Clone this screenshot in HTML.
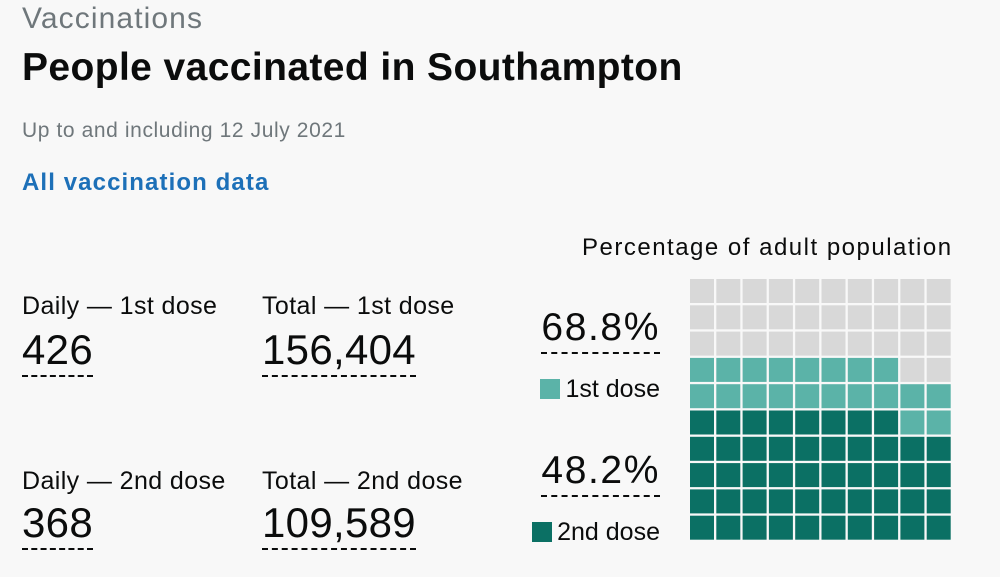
<!DOCTYPE html>
<html><head><meta charset="utf-8"><style>
body{margin:0;width:1000px;height:577px;background:#f8f8f8;font-family:"Liberation Sans",sans-serif;position:relative;overflow:hidden;color:#0b0c0c}
.a{position:absolute;white-space:nowrap;margin:0}
.lab{font-size:25px;line-height:25px;letter-spacing:0.4px}
.num{font-size:42px;line-height:38px;border-bottom:2px dashed #0b0c0c;padding-bottom:6px;letter-spacing:0.3px}
.pct{font-size:39px;line-height:36px;border-bottom:2px dashed #0b0c0c;padding-bottom:6px;right:340px;text-align:right;letter-spacing:1.6px}
.leg{font-size:25px;line-height:25px;right:340px}
.sw{display:inline-block;width:20px;height:20px;vertical-align:-2px;margin-right:5px}
</style></head><body>
<div class="a" style="left:22px;top:2px;font-size:30px;color:#6f777b;letter-spacing:1.1px">Vaccinations</div>
<div class="a" style="left:22px;top:46px;font-size:39px;font-weight:bold;letter-spacing:0.4px">People vaccinated in Southampton</div>
<div class="a" style="left:22px;top:119px;font-size:21px;color:#6f777b;letter-spacing:0.6px">Up to and including 12 July 2021</div>
<div class="a" style="left:22px;top:169px;font-size:24px;font-weight:bold;color:#1d70b8;letter-spacing:1.1px">All vaccination data</div>

<div class="a lab" style="left:22px;top:294px">Daily — 1st dose</div>
<div class="a num" style="left:22px;top:331px">426</div>
<div class="a lab" style="left:262px;top:294px">Total — 1st dose</div>
<div class="a num" style="left:262px;top:331px">156,404</div>
<div class="a lab" style="left:22px;top:469px">Daily — 2nd dose</div>
<div class="a num" style="left:22px;top:504px">368</div>
<div class="a lab" style="left:262px;top:469px">Total — 2nd dose</div>
<div class="a num" style="left:262px;top:504px">109,589</div>

<div class="a" style="left:582px;top:234px;font-size:24px;letter-spacing:1.5px">Percentage of adult population</div>
<div class="a pct" style="top:310px" id="p1"></div>
<div class="a leg" style="top:377px"><span class="sw" style="background:#5bb3a8"></span>1st dose</div>
<div class="a pct" style="top:453px" id="p2"></div>
<div class="a leg" style="top:520px"><span class="sw" style="background:#0b7064"></span>2nd dose</div>

<svg class="a" style="left:690px;top:279px" width="264" height="264" id="w"></svg>
<script>
const firstDosePct = 68.8;
const secondDosePct = 48.2;
document.getElementById('p1').textContent = firstDosePct.toFixed(1) + '%';
document.getElementById('p2').textContent = secondDosePct.toFixed(1) + '%';
const svg = document.getElementById('w');
const n1 = Math.floor(firstDosePct), n2 = Math.floor(secondDosePct);
const pitch = 26.3, size = 24;
for (let i = 0; i < 100; i++) {
  const row = 9 - Math.floor(i / 10), col = i % 10;
  const r = document.createElementNS('http://www.w3.org/2000/svg', 'rect');
  r.setAttribute('x', col * pitch);
  r.setAttribute('y', row * pitch);
  r.setAttribute('width', size);
  r.setAttribute('height', size);
  r.setAttribute('fill', i < n2 ? '#0b7064' : (i < n1 ? '#5bb3a8' : '#d8d8d8'));
  
  
  svg.appendChild(r);
}
</script>
</body></html>
